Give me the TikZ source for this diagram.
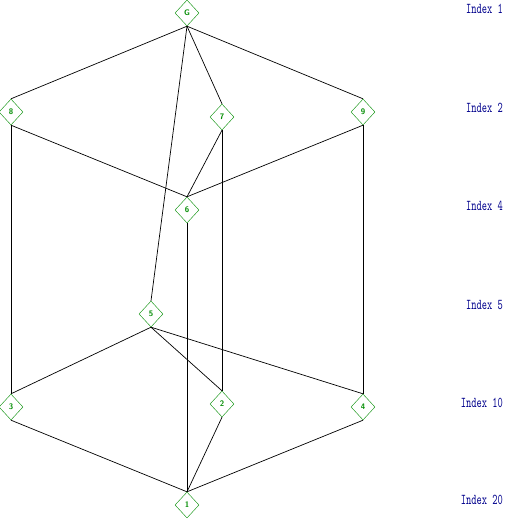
\documentclass[tikz,border=0pt]{standalone}
\usetikzlibrary{shapes.geometric}
\definecolor{dgreen}{RGB}{0,140,0}
\definecolor{navyb}{RGB}{0,0,140}
\begin{document}
\begin{tikzpicture}[x=1pt,y=-1pt,
  elem/.style={diamond,draw=dgreen,text=dgreen,minimum width=24pt,minimum height=26pt,inner sep=0pt,font=\fontsize{8}{8}\sffamily\bfseries},
  idx/.style={anchor=east,text=navyb,inner sep=0pt,font=\fontsize{10}{10}\ttfamily},
  edge/.style={draw=black,line width=0.7pt}]
\useasboundingbox (0,0) rectangle (504,519);
\node[elem] (G) at (187,13) {G};
\node[elem] (n8) at (11,112) {8};
\node[elem] (n7) at (222,117) {7};
\node[elem] (n9) at (363,112) {9};
\node[elem] (n6) at (187,210) {6};
\node[elem] (n5) at (151,314) {5};
\node[elem] (n3) at (11,407) {3};
\node[elem] (n2) at (222,404) {2};
\node[elem] (n4) at (363,407) {4};
\node[elem] (n1) at (187,505) {1};
\node[idx] (i1) at (503,9) {\scalebox{1}[1.5]{Index 1}};
\node[idx] (i2) at (503,108) {\scalebox{1}[1.5]{Index 2}};
\node[idx] (i4) at (503,206) {\scalebox{1}[1.5]{Index 4}};
\node[idx] (i5) at (503,305) {\scalebox{1}[1.5]{Index 5}};
\node[idx] (i10) at (503,403) {\scalebox{1}[1.5]{Index 10}};
\node[idx] (i20) at (503,500) {\scalebox{1}[1.5]{Index 20}};
\foreach \a/\b in {G/n8,G/n9,G/n7,G/n5,n8/n6,n9/n6,n7/n6,n8/n3,n9/n4,n7/n2,n6/n1,n5/n3,n5/n4,n5/n2,n3/n1,n4/n1,n2/n1}
  \draw[edge] (\a.south) -- (\b.north);
\end{tikzpicture}
\end{document}
